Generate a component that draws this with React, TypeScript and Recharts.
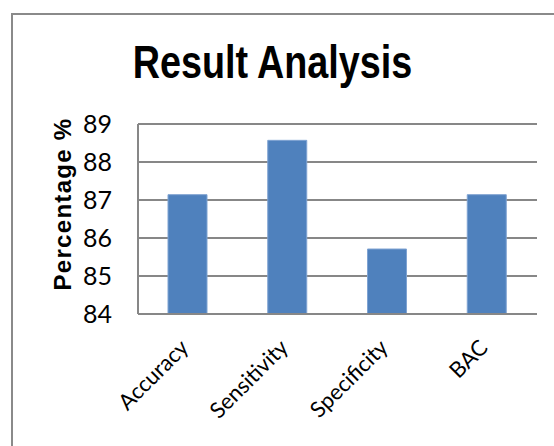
import React from 'react';
import { BarChart, Bar, XAxis, YAxis, CartesianGrid } from 'recharts';

const metrics = ['Accuracy', 'Sensitivity', 'Specificity', 'BAC'];
const percentages = [87.14, 88.57, 85.71, 87.14];
const yTicks = [84, 85, 86, 87, 88, 89];

const data = metrics.map((name, i) => ({ name, value: percentages[i] }));

const sansBold = '"Liberation Sans", Arial, sans-serif';
const plain = 'Lato, "Open Sans", sans-serif';

const AngledTick = (props: any) => {
  const { x, payload } = props;
  return (
    <g transform={`translate(${x - 4},${343}) rotate(-45)`}>
      <text x={0} y={0} textAnchor="end" dominantBaseline="central" fontFamily={plain} fontSize={22} fill="#000">
        {payload.value}
      </text>
    </g>
  );
};

const App = () => {
  return (
    <div style={{ position: 'fixed', left: 0, top: 0, width: 554, height: 446, background: '#fff', overflow: 'hidden' }}>
      {/* outer chart frame, runs off the right and bottom edge */}
      <div style={{ position: 'absolute', left: 11, top: 13, width: 600, height: 500, border: '2px solid #8a8a8a', boxSizing: 'border-box' }} />
      <div
        style={{
          position: 'absolute', left: 0, top: 36, width: 554, textAlign: 'center',
          fontFamily: sansBold, fontWeight: 700, fontSize: 46, lineHeight: '52px', color: '#000',
        }}
      >
        <span style={{ display: 'inline-block', transform: 'translateX(-5px) scaleX(0.82)' }}>Result Analysis</span>
      </div>
      <div style={{ position: 'absolute', left: 0, top: 0 }}>
        <BarChart width={554} height={446} data={data} margin={{ top: 124, right: 17, bottom: 0, left: 0 }} barSize={39}>
          <CartesianGrid vertical={false} stroke="#878787" strokeWidth={2} />
          <XAxis
            dataKey="name"
            tick={<AngledTick />}
            tickLine={false}
            axisLine={{ stroke: '#878787', strokeWidth: 2 }}
            interval={0}
            height={132}
          />
          <YAxis
            domain={[84, 89]}
            ticks={yTicks}
            width={138}
            tickLine={false}
            tickSize={0}
            tickMargin={26}
            axisLine={{ stroke: '#878787', strokeWidth: 2 }}
            tick={{ fill: '#000', fontSize: 25, fontFamily: plain }}
            label={{
              content: () => (
                <text
                  x={0}
                  y={0}
                  transform="translate(62 204) rotate(-90)"
                  textAnchor="middle"
                  dominantBaseline="central"
                  fontFamily={sansBold}
                  fontWeight={700}
                  fontSize={24}
                  letterSpacing={1.3}
                  fill="#000"
                >
                  Percentage %
                </text>
              ),
            }}
          />
          <Bar dataKey="value" fill="#4F81BD" stroke="#7fa3d2" strokeWidth={1} isAnimationActive={false} />
        </BarChart>
      </div>
    </div>
  );
};

export default App;
